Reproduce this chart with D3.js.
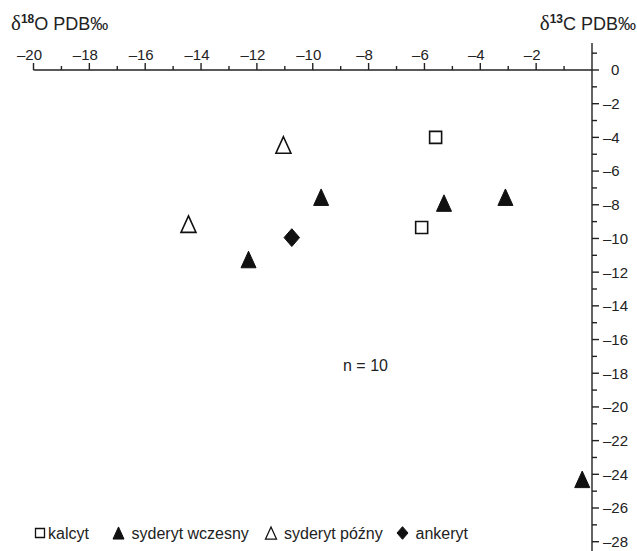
<!DOCTYPE html>
<head>
    <meta charset="utf-8">
    <script src="https://d3js.org/d3.v7.min.js"></script>
    <style>
        body {
            margin: 0;
            background: white;
            font-family: "Liberation Sans", Arial, sans-serif;
        }
        .axis text {
            font-size: 15px;
            fill: #222;
        }
        .axis line, .axis path {
            stroke: #222;
            stroke-width: 1.4px;
        }
        .title {
            font-size: 18px;
            fill: #222;
        }
        .legend text {
            font-size: 16px;
            fill: #222;
        }
    </style>
</head>
<body>
<script>
    // data: [d18O, d13C]
    var kalcyt = [[-5.6, -4.0], [-6.1, -9.35]];
    var sydWczesny = [[-9.7, -7.55], [-12.3, -11.25], [-5.3, -7.9], [-3.1, -7.55], [-0.35, -24.3]];
    var sydPozny = [[-11.05, -4.45], [-14.45, -9.15]];
    var ankeryt = [[-10.75, -9.95]];

    var xMajor = [-20, -18, -16, -14, -12, -10, -8, -6, -4, -2];
    var yMajor = [0, -2, -4, -6, -8, -10, -12, -14, -16, -18, -20, -22, -24, -26, -28];

    var series = [
        {label: "kalcyt", shape: "square", fill: "white", data: kalcyt},
        {label: "syderyt wczesny", shape: "triangle", fill: "#111", data: sydWczesny},
        {label: "syderyt późny", shape: "triangle", fill: "white", data: sydPozny},
        {label: "ankeryt", shape: "diamond", fill: "#111", data: ankeryt}
    ];

    var width = 637, height = 551;

    var svg = d3.select("body").append("svg")
        .attr("width", width)
        .attr("height", height);

    var x = d3.scaleLinear().domain([-20, 0]).range([33.5, 592]);
    var y = d3.scaleLinear().domain([0, -28]).range([70, 541.7]);

    var fmt = function(d) { return d < 0 ? "\u2013" + Math.abs(d) : "" + d; };

    // x axis (ticks pointing up, labels above)
    var xg = svg.append("g").attr("class", "axis");
    xg.append("line")
        .attr("x1", x(-20)).attr("x2", x(0))
        .attr("y1", y(0)).attr("y2", y(0));
    xg.selectAll(".minor")
        .data(d3.range(-19, 0, 2))
        .enter().append("line")
        .attr("x1", function(d) { return x(d); })
        .attr("x2", function(d) { return x(d); })
        .attr("y1", y(0)).attr("y2", y(0) - 4);
    xg.selectAll(".major")
        .data(xMajor)
        .enter().append("line")
        .attr("x1", function(d) { return x(d); })
        .attr("x2", function(d) { return x(d); })
        .attr("y1", y(0)).attr("y2", y(0) - 7);
    xg.selectAll("text")
        .data(xMajor)
        .enter().append("text")
        .attr("x", function(d) { return x(d) - 4; })
        .attr("y", 60)
        .attr("text-anchor", "middle")
        .text(fmt);

    // y axis (ticks to the right, labels right)
    var yg = svg.append("g").attr("class", "axis");
    yg.append("line")
        .attr("x1", x(0)).attr("x2", x(0))
        .attr("y1", y(1.6)).attr("y2", height);
    yg.selectAll(".minor")
        .data(d3.range(1, -28, -2))
        .enter().append("line")
        .attr("x1", x(0)).attr("x2", x(0) + 5)
        .attr("y1", function(d) { return y(d); })
        .attr("y2", function(d) { return y(d); });
    yg.selectAll(".major")
        .data(yMajor)
        .enter().append("line")
        .attr("x1", x(0)).attr("x2", x(0) + 7)
        .attr("y1", function(d) { return y(d); })
        .attr("y2", function(d) { return y(d); });
    yg.selectAll("text")
        .data(yMajor)
        .enter().append("text")
        .attr("x", function(d) { return d === 0 ? 611 : 603; })
        .attr("y", function(d) { return y(d); })
        .attr("dy", "0.36em")
        .text(fmt);

    // axis titles
    var t1 = svg.append("text").attr("class", "title").attr("x", 11).attr("y", 30);
    t1.append("tspan").style("font-family", "Liberation Serif").style("font-size", "21px").text("\u03b4");
    t1.append("tspan").attr("dy", -7).style("font-size", "12px").style("font-weight", "bold").text("18");
    t1.append("tspan").attr("dy", 7).text("O PDB\u2030");

    var t2 = svg.append("text").attr("class", "title").attr("x", 636).attr("y", 30).attr("text-anchor", "end");
    t2.append("tspan").style("font-family", "Liberation Serif").style("font-size", "21px").text("\u03b4");
    t2.append("tspan").attr("dy", -7).style("font-size", "12px").style("font-weight", "bold").text("13");
    t2.append("tspan").attr("dy", 7).text("C PDB\u2030");

    // marker shapes centred on their bounding box
    function shapePath(shape, s) {
        var h = s / 2;
        if (shape === "square") return d3.line()([[-h, -h], [h, -h], [h, h], [-h, h]]) + "Z";
        if (shape === "triangle") return d3.line()([[0, -h * 1.1], [h, h * 1.1], [-h, h * 1.1]]) + "Z";
        return d3.line()([[0, -h * 1.15], [h, 0], [0, h * 1.15], [-h, 0]]) + "Z";
    }
    var markSize = {square: 12, triangle: 15, diamond: 15.5};

    var pts = svg.append("g");
    series.forEach(function(s) {
        pts.selectAll(null)
            .data(s.data)
            .enter().append("path")
            .attr("transform", function(d) { return "translate(" + x(d[0]) + "," + y(d[1]) + ")"; })
            .attr("d", shapePath(s.shape, markSize[s.shape]))
            .attr("fill", s.fill)
            .attr("stroke", "#111")
            .attr("stroke-width", s.fill === "white" ? 1.6 : 1)
            .attr("stroke-linejoin", "miter");
    });

    svg.append("text")
        .attr("x", 343).attr("y", 371)
        .style("font-size", "16px").style("fill", "#222")
        .text("n = 10");

    // legend
    var legendX = [40, 118.5, 271, 402.5];
    var legendSize = {square: 9, triangle: 11, diamond: 11};
    var legend = svg.append("g").attr("class", "legend");
    series.forEach(function(s, i) {
        legend.append("path")
            .attr("transform", "translate(" + legendX[i] + ",533)")
            .attr("d", shapePath(s.shape, legendSize[s.shape]))
            .attr("fill", s.fill)
            .attr("stroke", "#111")
            .attr("stroke-width", s.fill === "white" ? 1.3 : 1);
        legend.append("text")
            .attr("x", legendX[i] + 8 + (i === 0 ? 0 : 5))
            .attr("y", 539)
            .text(s.label);
    });
</script>
</body>
</html>
